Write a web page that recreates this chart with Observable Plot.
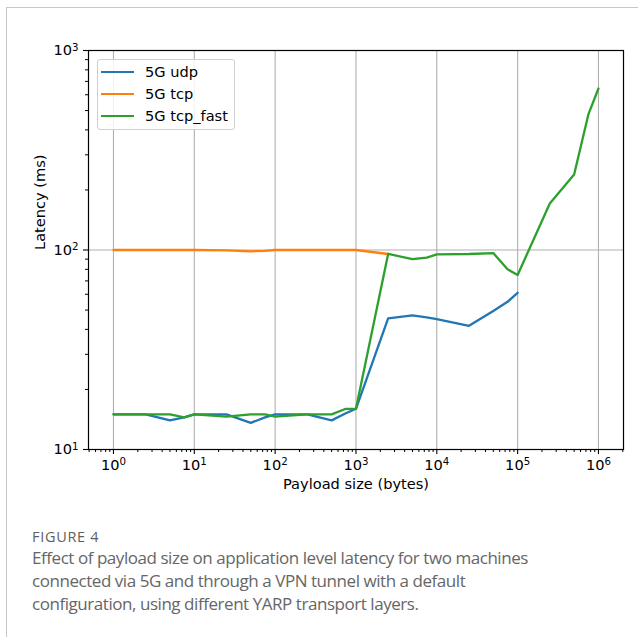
<!DOCTYPE html>
<html>
<head>
<meta charset="utf-8">
<script src="https://cdn.jsdelivr.net/npm/d3@7"></script>
<script src="https://cdn.jsdelivr.net/npm/@observablehq/plot@0.6"></script>
<style>
  html, body { margin: 0; padding: 0; background: #fff; }
  body { width: 638px; height: 637px; position: relative; overflow: hidden; }
  #card { position: absolute; left: 6px; top: 7px; right: 0; bottom: 0; border-left: 1px solid #c8c8c8; border-top: 1px solid #c8c8c8; }
  #chart { position: absolute; left: 0; top: 0; }
  #legend { position: absolute; left: 97px; top: 59px; width: 138px; height: 71px; box-sizing: border-box;
            border: 1px solid #d0d0d0; border-radius: 3px; background: rgba(255,255,255,0.85);
            font-family: "DejaVu Sans", sans-serif; font-size: 14.6px; color: #000; }
  .item { position: absolute; left: 0; height: 20px; width: 130px; }
  .sw { position: absolute; left: 3px; width: 33px; height: 2.4px; }
  .lab { position: absolute; left: 47px; white-space: nowrap; line-height: 17px; }
  #caption { position: absolute; left: 32px; top: 528px; width: 600px; font-family: "Open Sans", sans-serif; color: #666; }
  #fig { font-size: 14.5px; line-height: 18px; letter-spacing: 0.7px; color: #5e5e5e; }
  #cap { font-size: 17px; line-height: 23px; letter-spacing: -0.45px; }
</style>
</head>
<body>
<div id="card"></div>
<div id="chart"></div>
<div id="legend"></div>
<div id="caption">
  <div id="fig">FIGURE 4</div>
  <div id="cap">Effect of payload size on application level latency for two machines<br>connected via 5G and through a VPN tunnel with a default<br>configuration, using different YARP transport layers.</div>
</div>
<script>
// Data
const payloadSizes = [1, 2.5, 5, 7.5, 10, 25, 50, 75, 100, 250, 500, 750, 1000, 2500, 5000, 7500, 10000, 25000, 50000, 75000, 100000, 250000, 500000, 750000, 1000000];
const udpLatency = [15, 15, 14, 14.5, 15, 15, 13.6, 14.5, 15, 15, 14, 15.2, 16, 45.4, 47, 46, 45, 41.7, 49.5, 55, 61];
const tcpLatency = [100, 100, 100, 100, 100, 99.5, 98.5, 99, 100, 100, 100, 100, 100, 95.5];
const tcpFastLatency = [15, 15, 15, 14.5, 15, 14.6, 15, 15, 14.6, 15, 15, 16, 16, 95.5, 90, 91.5, 95, 95.5, 96.5, 80, 75, 171, 239, 478, 645];
const seriesNames = ["5G udp", "5G tcp", "5G tcp_fast"];
const seriesColors = ["#1f77b4", "#ff7f0e", "#2ca02c"];
const xMajorTicks = [1, 10, 100, 1000, 10000, 100000, 1000000];
const yMajorTicks = [10, 100, 1000];
const xLabel = "Payload size (bytes)";
const yLabel = "Latency (ms)";

const toRows = (vals, name) => vals.map((v, i) => ({size: payloadSizes[i], latency: v, series: name}));
const udpRows = toRows(udpLatency, seriesNames[0]);
const tcpRows = toRows(tcpLatency, seriesNames[1]);
const fastRows = toRows(tcpFastLatency, seriesNames[2]);

// label "10^k" -> rewritten below into 10 + superscript tspan
const fmtPow = d => "10^" + Math.round(Math.log10(d));

const minor = (lo, hi) => {
  const out = [];
  for (let k = lo; k <= hi; k++) for (let m = 2; m <= 9; m++) out.push(m * Math.pow(10, k));
  return out;
};
const xMinor = minor(-1, 6).filter(v => v >= 0.5 && v <= 2e6);
const yMinor = minor(1, 2);

const font = "'DejaVu Sans', sans-serif";
const FS = 14.6;
const plot = Plot.plot({
  width: 638,
  height: 500,
  marginLeft: 88,
  marginRight: 15,
  marginTop: 50,
  marginBottom: 51,
  style: {fontFamily: font, fontSize: FS + "px", color: "#000", background: "transparent"},
  x: {type: "log", domain: [0.491, 2.04e6]},
  y: {type: "log", domain: [10, 1000]},
  marks: [
    Plot.gridX(xMajorTicks, {stroke: "#b0b0b0", strokeOpacity: 1, strokeWidth: 1.1}),
    Plot.gridY(yMajorTicks, {stroke: "#b0b0b0", strokeOpacity: 1, strokeWidth: 1.1}),
    Plot.axisX(xMinor, {tickSize: 3, tickFormat: () => "", stroke: "#000", strokeWidth: 1, label: null}),
    Plot.axisY(yMinor, {tickSize: 3, tickFormat: () => "", stroke: "#000", strokeWidth: 1, label: null}),
    Plot.axisX(xMajorTicks, {tickSize: 5, tickPadding: 5, tickFormat: fmtPow, stroke: "#000", strokeWidth: 1.1, fill: "#000", fontSize: FS, label: null}),
    Plot.axisY(yMajorTicks, {tickSize: 5, tickPadding: 5, tickFormat: fmtPow, stroke: "#000", strokeWidth: 1.1, fill: "#000", fontSize: FS, label: null}),
    Plot.line(udpRows, {x: "size", y: "latency", stroke: seriesColors[0], strokeWidth: 2.3}),
    Plot.line(tcpRows, {x: "size", y: "latency", stroke: seriesColors[1], strokeWidth: 2.3}),
    Plot.line(fastRows, {x: "size", y: "latency", stroke: seriesColors[2], strokeWidth: 2.3}),
    Plot.frame({stroke: "#000", strokeWidth: 1.2}),
    Plot.text([xLabel], {frameAnchor: "bottom", dy: 39, text: d => d, fontSize: FS, fill: "#000"}),
    Plot.text([yLabel], {frameAnchor: "left", dx: -48, rotate: -90, text: d => d, fontSize: FS, fill: "#000"})
  ]
});

// turn "10^k" tick labels into 10 with a raised, smaller exponent
plot.querySelectorAll("text").forEach(t => {
  const s = t.textContent;
  const m = /^10\^(-?\d+)$/.exec(s);
  if (!m) return;
  t.textContent = "10";
  const sup = document.createElementNS("http://www.w3.org/2000/svg", "tspan");
  sup.setAttribute("dy", "-0.45em");
  sup.setAttribute("font-size", "0.7em");
  sup.textContent = m[1];
  t.appendChild(sup);
});
document.getElementById("chart").appendChild(plot);

const legend = document.getElementById("legend");
const rowTops = [3, 25, 47];
seriesNames.forEach((name, i) => {
  const item = document.createElement("div");
  item.className = "item";
  item.style.top = rowTops[i] + "px";
  item.innerHTML = `<div class="sw" style="background:${seriesColors[i]};top:7.5px"></div><div class="lab" style="top:0px">${name}</div>`;
  legend.appendChild(item);
});
</script>
</body>
</html>
